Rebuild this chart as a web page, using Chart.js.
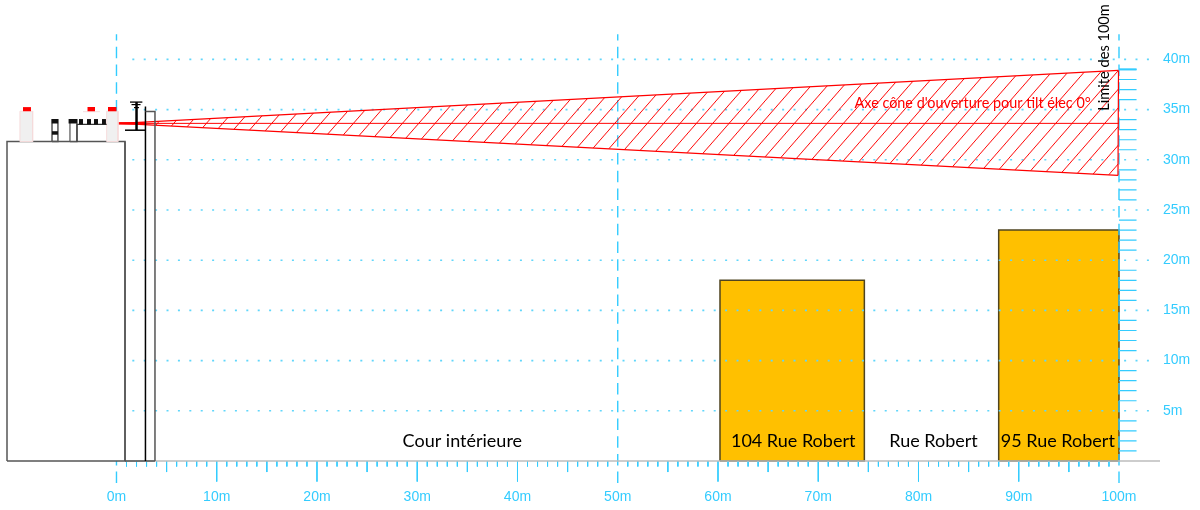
<!DOCTYPE html>
<html><head><meta charset="utf-8">
<style>html,body{margin:0;padding:0;background:#fff}canvas{display:block}</style>
<script src="https://cdn.jsdelivr.net/npm/chart.js@4"></script>
</head><body><canvas id="c" width="1200" height="510"></canvas>
<script>
// ---- axis labels (metres) ----
const xLabelTicks = [0,10,20,30,40,50,60,70,80,90,100];
const yLabelTicks = [5,10,15,20,25,30,35,40];
const xMinorTicks = [1,2,3,4,6,7,8,9,11,12,13,14,16,17,18,19,21,22,23,24,26,27,28,29,31,32,33,34,36,37,38,39,41,42,43,44,46,47,48,49,51,52,53,54,56,57,58,59,61,62,63,64,66,67,68,69,71,72,73,74,76,77,78,79,81,82,83,84,86,87,88,89,91,92,93,94,96,97,98,99];
const xMidTicks = [5,15,25,35,45,55,65,75,85,95];
const xMajorTicks = [10,20,30,40,60,70,80,90];
const yMinorTicks = [1,2,3,4,6,7,8,9,11,12,13,14,16,17,18,19,21,22,23,24,26,27,28,29,31,32,33,34,36,37,38,39];
const dashedVerticals = [0,50,100];
// ---- buildings [xStart, xEnd, height] ----
const buildingNames = ['104 Rue Robert','95 Rue Robert'];
const buildingSpans = [[60.2,74.6],[88.0,100.0]];
const buildingHeights = [18.0,23.0];
// ---- opening cone (metres) ----
const coneApex = [0.35,33.63];
const coneTopEnd = [99.95,38.9];
const coneBottomEnd = [99.9,28.45];
const coneAxisEnd = [100,33.63];
// ---- texts ----
const placeLabels = ['Cour intérieure','104 Rue Robert','Rue Robert','95 Rue Robert'];
const coneLabel = "Axe cône d'ouverture pour tilt élec 0°";
const limitLabel = 'Limite des 100m';

const BLUE='#33ccff', DOT='#5fd6fb', GREY='#555555', RED='#ff0000';
function line(pts,color,width,extra){return Object.assign({type:'scatter',showLine:true,data:pts.map(p=>({x:p[0],y:p[1]})),borderColor:color,borderWidth:width,pointRadius:0,fill:false,tension:0,clip:false,spanGaps:false},extra||{});}
function segs(list,fn){const o=[];list.forEach(v=>{const s=fn(v);o.push(s[0],s[1],[null,null]);});return o;}
function box(x0,y0,x1,y1,fillC,strokeC,w){
  const r=[];
  if(fillC) r.push(line([[x0,y1],[x1,y1]],'transparent',0,{fill:{value:y0},backgroundColor:fillC}));
  if(strokeC) r.push(line([[x0,y0],[x0,y1],[x1,y1],[x1,y0],[x0,y0]],strokeC,w));
  return r;
}
// hatch pattern
function hatch(){
  const W=49/3,H=56/3,t=document.createElement('canvas');t.width=49;t.height=56;
  const g=t.getContext('2d');g.strokeStyle=RED;g.lineWidth=1;
  for(let k=-4;k<=10;k++){g.beginPath();g.moveTo(k*W,0);g.lineTo((k-3)*W,56);g.stroke();}
  const p=g.createPattern(t,'repeat');p.setTransform(new DOMMatrix().translate(3.97,0));return p;
}
let ds=[];
// buildings
buildingSpans.forEach((s,i)=>{ds.push(...box(s[0],0,s[1],buildingHeights[i],'#ffc000','#4f4420',1.5));});
// dotted level lines
yLabelTicks.forEach(v=>ds.push(line([[1.58,v],[103.1,v]],DOT,1.6,{borderDash:[2,9.4]})));
// dashed verticals
dashedVerticals.forEach(v=>ds.push(line([[v,-2.2],[v,42.5]],BLUE,1.4,{borderDash:[11.5,6.2]})));
// graduation
ds.push(line(segs(xMinorTicks,v=>[[v,0],[v,-0.55]]),BLUE,1));
ds.push(line(segs(xMidTicks,v=>[[v,0],[v,-1.1]]),BLUE,1));
ds.push(line(segs(xMajorTicks,v=>[[v,0],[v,-2.05]]),BLUE,1));
ds.push(line(segs(yMinorTicks,v=>[[100,v],[101.75,v]]),BLUE,1.2));
ds.push(line([[100,39],[101.75,39]],BLUE,2));
ds.push(line([[0.85,0],[104.09,0]],'#bdbdbd',1.6));
// cone
ds.push(line([coneApex,coneBottomEnd],RED,1.2));
ds.push(line([coneApex,coneTopEnd],RED,1.2,{fill:'+1',backgroundColor:hatch()}));
ds.push(line([coneTopEnd,coneBottomEnd],RED,1.2));
ds.push(line([[0.2,33.63],coneAxisEnd],RED,1));
ds.push(line([[0.1,33.63],[2.9,33.63]],RED,2.5));
// left building and roof equipment
ds.push(...box(-10.92,0,0.85,31.82,'#ffffff',GREY,1.5));
ds.push(...box(-9.63,31.82,-8.36,34.84,'#f0f0f0','#f6dcdc',1));
ds.push(...box(-0.98,31.82,0.15,34.84,'#f0f0f0','#f6dcdc',1));
ds.push(line([[-3.34,34.8],[-1.65,34.8]],'#f6e4e4',1.2));
ds.push(...box(-9.33,34.84,-8.53,35.25,RED,null));
ds.push(...box(-0.85,34.84,0.02,35.25,RED,null));
ds.push(...box(-2.91,34.84,-2.14,35.25,RED,null));
ds.push(...box(-6.43,31.82,-5.84,34.0,null,GREY,1.5));
ds.push(...box(-6.48,33.62,-5.8,34.06,'#111111',null));
ds.push(...box(-6.43,32.5,-5.84,32.85,'#111111',null));
ds.push(...box(-4.64,31.82,-3.94,34.0,null,GREY,1.2));
ds.push(...box(-4.8,33.62,-3.9,34.06,'#111111',null));
ds.push(line([[-3.94,31.82],[-3.94,33.52],[-0.98,33.52]],'#333333',1.2));
[[-3.74,-3.34],[-2.94,-2.54],[-2.24,-1.84],[-1.45,-1.05]].forEach(s=>ds.push(...box(s[0],33.52,s[1],34.06,'#111111',null)));
// mast structure
ds.push(line([[0.85,0],[0.85,31.82]],GREY,1.5));
ds.push(line([[0.85,0],[3.84,0]],GREY,1.5));
ds.push(line([[0.85,32.95],[2.89,32.95]],'#000000',1.5));
ds.push(line([[2.89,0],[2.89,35.3]],'#000000',1.5));
ds.push(line([[2.89,34.81],[3.84,34.81],[3.84,0]],GREY,1.5));
ds.push(line([[2.0,32.95],[2.0,35.75]],'#000000',2.5));
ds.push(line([[1.35,35.75],[2.58,35.75]],'#000000',1.3));
ds.push(line([[1.5,35.5],[2.4,35.5]],'#000000',1.2));
ds.push(line([[1.75,35.2],[2.25,35.2]],'#000000',1.2));

const textPlugin={id:'texts',afterDatasetsDraw(ch){
  const x=ch.scales.x,y=ch.scales.y,g=ch.ctx;g.save();
  g.textBaseline='middle';g.textAlign='center';g.fillStyle='#000';g.font='18px Lato';
  [[34.5,2.0],[67.5,2.0],[81.5,2.0],[93.9,2.0]].forEach((p,i)=>g.fillText(placeLabels[i],x.getPixelForValue(p[0]),y.getPixelForValue(p[1])));
  g.fillStyle=RED;g.font='14.4px Lato';g.fillText(coneLabel,x.getPixelForValue(85.4),y.getPixelForValue(35.62));
  g.translate(x.getPixelForValue(98.5),y.getPixelForValue(40.2));g.rotate(-Math.PI/2);
  g.fillStyle='#000';g.font='14.6px Lato';g.fillText(limitLabel,0,0);
  g.restore();
}};
const tickFont={family:'Liberation Sans',size:14};
function noPad(s){s.paddingTop=0;s.paddingBottom=0;s.paddingLeft=0;s.paddingRight=0;}
new Chart(document.getElementById('c'),{
  type:'scatter',
  data:{datasets:ds.reverse()},
  plugins:[textPlugin],
  options:{responsive:false,animation:false,devicePixelRatio:1,
    layout:{padding:{left:6,top:5,right:0,bottom:0}},
    plugins:{legend:{display:false},tooltip:{enabled:false},title:{display:false}},
    scales:{
      x:{type:'linear',min:-11.02,max:104.09,position:'bottom',
        grid:{display:false,drawTicks:false},border:{display:false},
        ticks:{color:BLUE,font:tickFont,padding:28,maxRotation:0,autoSkip:false,callback:v=>v+'m'},
        afterBuildTicks:s=>{s.ticks=xLabelTicks.map(v=>({value:v}));},
        afterFit:s=>{s.height=49;noPad(s);}},
      y:{type:'linear',min:0,max:45.42,position:'right',
        grid:{display:false,drawTicks:false},border:{display:false},
        ticks:{color:BLUE,font:tickFont,padding:3,autoSkip:false,callback:v=>v+'m'},
        afterBuildTicks:s=>{s.ticks=yLabelTicks.map(v=>({value:v}));},
        afterFit:s=>{s.width=40;noPad(s);}}
    }
  }
});
</script></body></html>
